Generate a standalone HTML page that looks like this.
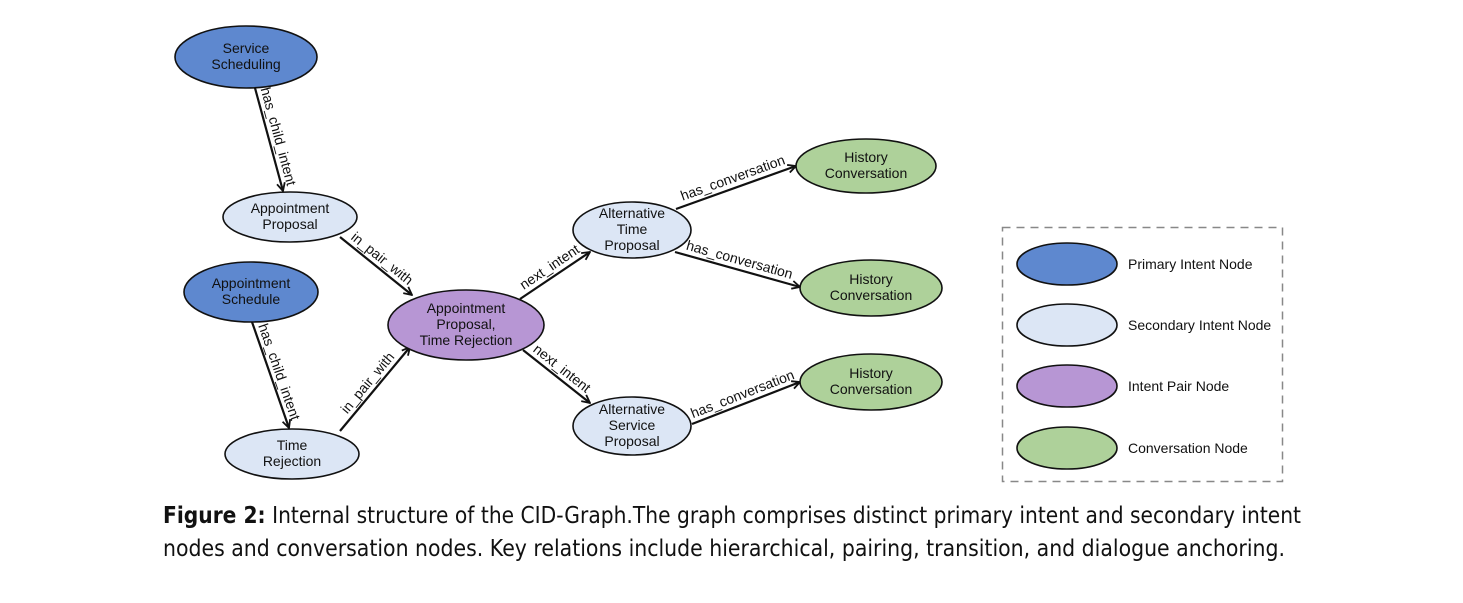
<!DOCTYPE html>
<html><head><meta charset="utf-8"><style>
html,body{margin:0;padding:0;background:#fff;}
svg{display:block;}
.n{font-family:"Liberation Sans",Arial,sans-serif;font-size:14px;fill:#111;text-anchor:middle;}
.e{font-family:"Liberation Sans",Arial,sans-serif;font-size:14px;fill:#111;text-anchor:middle;}
.l{font-family:"Liberation Sans",Arial,sans-serif;font-size:14px;fill:#111;}
.c{font-family:"DejaVu Sans","Liberation Sans",sans-serif;font-size:23px;fill:#111;}
</style></head><body>
<svg width="1463" height="603" viewBox="0 0 1463 603" xmlns="http://www.w3.org/2000/svg">
<defs>
<marker id="a" viewBox="0 0 10 10" refX="9" refY="5" markerWidth="10" markerHeight="10" orient="auto" markerUnits="userSpaceOnUse">
<path d="M1,1 L9,5 L1,9" fill="none" stroke="#111" stroke-width="1.8"/>
</marker>
</defs>
<g stroke="#111" stroke-width="2.2" fill="none" marker-end="url(#a)">
<line x1="255" y1="88" x2="283" y2="191"/>
<line x1="252" y1="322" x2="289" y2="428"/>
<line x1="340" y1="237" x2="412" y2="295"/>
<line x1="340" y1="431" x2="410" y2="347"/>
<line x1="520" y1="299" x2="590" y2="252"/>
<line x1="523" y1="350" x2="590" y2="403"/>
<line x1="676" y1="209" x2="796" y2="166"/>
<line x1="675" y1="252" x2="800" y2="287"/>
<line x1="692" y1="424" x2="800" y2="382"/>
</g>
<g class="e">
<text transform="translate(269,139) rotate(74.8)" dy="-5">has_child_intent</text>
<text transform="translate(270,375) rotate(70.8)" dy="-5">has_child_intent</text>
<text transform="translate(376,266) rotate(38.9)" dy="-5">in_pair_with</text>
<text transform="translate(375,389) rotate(-50.2)" dy="-5">in_pair_with</text>
<text transform="translate(555,275) rotate(-33.9)" dy="-5">next_intent</text>
<text transform="translate(556,376) rotate(38.3)" dy="-5">next_intent</text>
<text transform="translate(736,187) rotate(-19.7)" dy="-5">has_conversation</text>
<text transform="translate(737,269) rotate(15.6)" dy="-5">has_conversation</text>
<text transform="translate(746,403) rotate(-21.3)" dy="-5">has_conversation</text>
</g>
<g stroke="#111" stroke-width="1.6">
<ellipse cx="246" cy="57" rx="71" ry="31" fill="#5e88cf"/>
<ellipse cx="290" cy="217" rx="67" ry="25" fill="#dce6f5"/>
<ellipse cx="251" cy="292" rx="67" ry="30" fill="#5e88cf"/>
<ellipse cx="466" cy="325" rx="78" ry="35" fill="#b796d4"/>
<ellipse cx="292" cy="454" rx="67" ry="25" fill="#dce6f5"/>
<ellipse cx="632" cy="230" rx="59" ry="28" fill="#dce6f5"/>
<ellipse cx="632" cy="426" rx="59" ry="29" fill="#dce6f5"/>
<ellipse cx="866" cy="166" rx="70" ry="27" fill="#aed19a"/>
<ellipse cx="871" cy="288" rx="71" ry="28" fill="#aed19a"/>
<ellipse cx="871" cy="382" rx="71" ry="28" fill="#aed19a"/>
</g>
<g class="n">
<text x="246" y="53">Service</text><text x="246" y="69">Scheduling</text>
<text x="290" y="213">Appointment</text><text x="290" y="229">Proposal</text>
<text x="251" y="288">Appointment</text><text x="251" y="304">Schedule</text>
<text x="466" y="313">Appointment</text><text x="466" y="329">Proposal,</text><text x="466" y="345">Time Rejection</text>
<text x="292" y="450">Time</text><text x="292" y="466">Rejection</text>
<text x="632" y="218">Alternative</text><text x="632" y="234">Time</text><text x="632" y="250">Proposal</text>
<text x="632" y="414">Alternative</text><text x="632" y="430">Service</text><text x="632" y="446">Proposal</text>
<text x="866" y="162">History</text><text x="866" y="178">Conversation</text>
<text x="871" y="284">History</text><text x="871" y="300">Conversation</text>
<text x="871" y="378">History</text><text x="871" y="394">Conversation</text>
</g>
<rect x="1002.5" y="227.5" width="280" height="254" fill="none" stroke="#888" stroke-width="1.5" stroke-dasharray="8,6"/>
<g stroke="#111" stroke-width="1.6">
<ellipse cx="1067" cy="264" rx="50" ry="21" fill="#5e88cf"/>
<ellipse cx="1067" cy="325" rx="50" ry="21" fill="#dce6f5"/>
<ellipse cx="1067" cy="386" rx="50" ry="21" fill="#b796d4"/>
<ellipse cx="1067" cy="448" rx="50" ry="21" fill="#aed19a"/>
</g>
<g class="l">
<text x="1128" y="269">Primary Intent Node</text>
<text x="1128" y="330">Secondary Intent Node</text>
<text x="1128" y="391">Intent Pair Node</text>
<text x="1128" y="453">Conversation Node</text>
</g>
<text class="c" x="163" y="523" textLength="1138" lengthAdjust="spacingAndGlyphs"><tspan font-weight="bold">Figure 2:</tspan> Internal structure of the CID-Graph.The graph comprises distinct primary intent and secondary intent</text>
<text class="c" x="163" y="556" textLength="1122" lengthAdjust="spacingAndGlyphs">nodes and conversation nodes. Key relations include hierarchical, pairing, transition, and dialogue anchoring.</text>
</svg>
</body></html>
